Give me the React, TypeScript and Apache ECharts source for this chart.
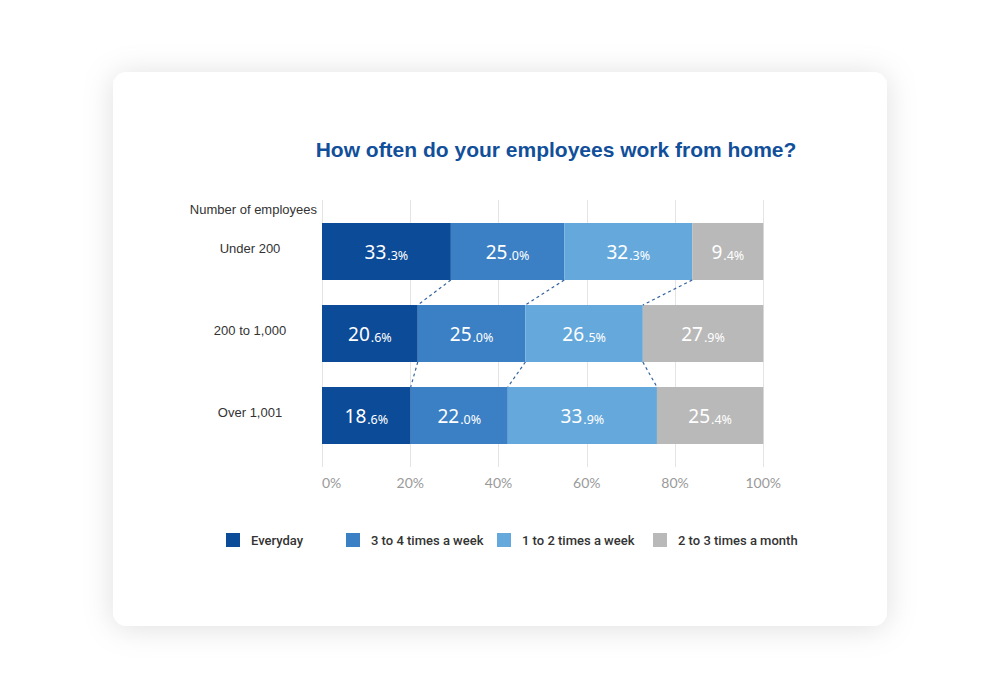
import React, { useEffect, useRef } from "react";
import * as echarts from "echarts";

const titleText = "How often do your employees work from home?";
const axisTitle = "Number of employees";
const categories = ["Under 200", "200 to 1,000", "Over 1,001"];
const seriesNames = ["Everyday", "3 to 4 times a week", "1 to 2 times a week", "2 to 3 times a month"];
// bar lengths as drawn in the picture (% of axis)
const everyday = [29.2, 21.7, 20.1];
const threeToFour = [25.7, 24.4, 22.0];
const oneToTwo = [29.0, 26.6, 33.8];
const perMonth = [16.1, 27.3, 24.1];
// printed labels
const everydayLabels = ["33.3", "20.6", "18.6"];
const threeToFourLabels = ["25.0", "25.0", "22.0"];
const oneToTwoLabels = ["32.3", "26.5", "33.9"];
const perMonthLabels = ["9.4", "27.9", "25.4"];
const xTicks = [0, 20, 40, 60, 80, 100];

const colors = ["#0b4b97", "#3b7fc4", "#65a9dc", "#b9b9b9"];
const legendLefts = [226, 346, 497, 653];

export default function App() {
  const ref = useRef<HTMLDivElement>(null);
  useEffect(() => {
    if (!ref.current) return;
    const chart = echarts.init(ref.current, null, { renderer: "svg" });
    const values = [everyday, threeToFour, oneToTwo, perMonth];
    const labels = [everydayLabels, threeToFourLabels, oneToTwoLabels, perMonthLabels];
    const barW = 57;

    const barSeries = values.map((vals, si) => ({
      type: "bar",
      name: seriesNames[si],
      stack: "total",
      xAxisIndex: 1,
      yAxisIndex: 1,
      barWidth: barW,
      itemStyle: { color: colors[si] },
      label: {
        show: true,
        position: "inside",
        offset: [0, -1],
        formatter: (p: any) => {
          const s = labels[si][p.dataIndex];
          const [a, b] = s.split(".");
          return `{a|${a}}{b|.${b}%}`;
        },
        rich: {
          a: { fontFamily: "Noto Sans", fontSize: 19, color: "#ffffff", verticalAlign: "bottom", lineHeight: 22 },
          b: { fontFamily: "Noto Sans", fontSize: 12.5, color: "#ffffff", verticalAlign: "bottom", lineHeight: 22, padding: [0, 0, 0, 1] },
        },
      },
      data: vals,
    }));

    const connectorData: number[][] = [];
    for (let r = 0; r < categories.length - 1; r++) {
      for (let s = 0; s < seriesNames.length - 1; s++) connectorData.push([s, r]);
    }

    const cum = (row: number, s: number) => {
      let t = 0;
      for (let k = 0; k <= s; k++) t += values[k][row];
      return t;
    };

    const option: any = {
      animation: false,
      backgroundColor: "#ffffff",
      textStyle: { fontFamily: "Liberation Sans" },
      graphic: [
        {
          type: "rect",
          z: -10,
          shape: { x: 113, y: 72, width: 774, height: 554, r: 14 },
          style: { fill: "#ffffff", shadowBlur: 30, shadowColor: "rgba(0,0,0,0.13)", shadowOffsetY: 2 },
        },
        {
          type: "text",
          x: 317,
          y: 209,
          style: {
            text: axisTitle,
            align: "right",
            verticalAlign: "middle",
            fontFamily: "Liberation Sans",
            fontSize: 13,
            fill: "#333333",
          },
        },
      ],
      title: {
        text: titleText,
        left: 551,
        textAlign: "center",
        top: 134,
        textStyle: { fontFamily: "Liberation Sans", fontWeight: "bold", fontSize: 21, color: "#124f9a" },
      },
      legend: seriesNames.map((n, i) => ({
        data: [n],
        left: legendLefts[i],
        top: 533,
        padding: 0,
        itemWidth: 14,
        itemHeight: 14,
        icon: "rect",
        selectedMode: false,
        textStyle: { fontFamily: "Roboto", fontWeight: 500, fontSize: 13, color: "#333333", padding: [0, 0, 0, 6] },
      })),
      grid: [
        { left: 322, width: 441.3, top: 200, height: 267 },
        { left: 322, width: 441.3, top: 210.5, height: 246 },
      ],
      xAxis: [
        {
          gridIndex: 0,
          type: "value",
          min: 0,
          max: 100,
          interval: 20,
          axisLine: { show: false },
          axisTick: { show: false },
          splitLine: { show: true, lineStyle: { color: "#e4e4e4", width: 1 } },
          axisLabel: {
            formatter: (v: number) => (xTicks.includes(v) ? `${v}%` : ""),
            color: "#9a9a9a",
            fontFamily: "Lato",
            fontSize: 14,
            margin: 8,
            alignMinLabel: "left",
          },
        },
        {
          gridIndex: 1,
          type: "value",
          min: 0,
          max: 100,
          show: false,
        },
      ],
      yAxis: [
        { gridIndex: 0, type: "value", show: false, min: 0, max: 1 },
        {
          gridIndex: 1,
          type: "category",
          inverse: true,
          data: categories,
          axisLine: { show: false },
          axisTick: { show: false },
          splitLine: { show: false },
          axisLabel: {
            align: "center",
            margin: 72,
            formatter: (v: string) => `{c|${v}}`,
            rich: {
              c: {
                color: "#333333",
                fontFamily: "Liberation Sans",
                fontSize: 13,
                padding: [0, 0, 7, 0],
              },
            },
          },
        },
      ],
      series: [
        ...barSeries,
        {
          type: "custom",
          xAxisIndex: 1,
          yAxisIndex: 1,
          z: 5,
          silent: true,
          encode: { x: 0, y: 1 },
          renderItem: (params: any, api: any) => {
            const s = api.value(0);
            const r = api.value(1);
            const p1 = api.coord([cum(r, s), r]);
            const p2 = api.coord([cum(r + 1, s), r + 1]);
            return {
              type: "line",
              shape: { x1: p1[0], y1: p1[1] + barW / 2, x2: p2[0], y2: p2[1] - barW / 2 },
              style: { stroke: "#34649f", lineWidth: 1.2, lineDash: [3, 3] },
            };
          },
          data: connectorData,
        },
      ],
    };
    chart.setOption(option);
    return () => chart.dispose();
  }, []);
  return <div ref={ref} style={{ position: "fixed", left: 0, top: 0, width: 1000, height: 700 }} />;
}
